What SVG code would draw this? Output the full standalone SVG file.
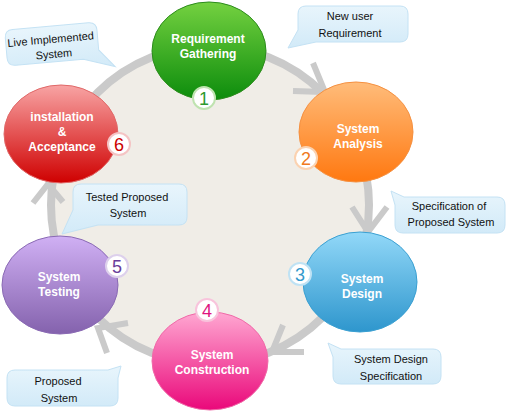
<svg xmlns="http://www.w3.org/2000/svg" width="506" height="412" viewBox="0 0 506 412">
<defs>
<linearGradient id="gGreen" x1="0" y1="0" x2="0" y2="1"><stop offset="0" stop-color="#74d140"/><stop offset="1" stop-color="#0c8c0c"/></linearGradient>
<linearGradient id="gOrange" x1="0" y1="0" x2="0" y2="1"><stop offset="0" stop-color="#ffbc7a"/><stop offset="1" stop-color="#ff7810"/></linearGradient>
<linearGradient id="gBlue" x1="0" y1="0" x2="0" y2="1"><stop offset="0" stop-color="#92d8f8"/><stop offset="1" stop-color="#2e96cd"/></linearGradient>
<linearGradient id="gPink" x1="0" y1="0" x2="0" y2="1"><stop offset="0" stop-color="#ffa8d2"/><stop offset="1" stop-color="#ea087a"/></linearGradient>
<linearGradient id="gPurple" x1="0" y1="0" x2="0" y2="1"><stop offset="0" stop-color="#d0b0f4"/><stop offset="1" stop-color="#8462ad"/></linearGradient>
<linearGradient id="gRed" x1="0" y1="0" x2="0" y2="1"><stop offset="0" stop-color="#f8a4a4"/><stop offset="1" stop-color="#cf0000"/></linearGradient>
<linearGradient id="gCall" x1="0" y1="0" x2="0" y2="1"><stop offset="0" stop-color="#e8f5fc"/><stop offset="1" stop-color="#d2eaf8"/></linearGradient>
<style>
.ring{fill:#f0ede7;stroke:#cacaca;stroke-width:8}
.chev{fill:none;stroke:#cacaca;stroke-width:6;stroke-linejoin:miter;stroke-linecap:butt}
.call{fill:url(#gCall);stroke:#c4e2f4;stroke-width:1}
.ct{font-family:"Liberation Sans",Arial,sans-serif;font-size:11px;fill:#111;text-anchor:middle}
.nt{font-family:"Liberation Sans",Arial,sans-serif;font-size:12px;font-weight:bold;fill:#fff;text-anchor:middle}
.badge{fill:#fff;stroke-width:2}
.num{font-family:"Liberation Sans",Arial,sans-serif;font-size:18px;text-anchor:middle}
</style>
</defs>
<rect width="506" height="412" fill="#fff"/>
<g id="connectors">
<circle class="ring" cx="210" cy="205" r="159"/>
<polyline class="chev" points="313,63 325,92 293,91"/>
<polyline class="chev" points="352,207 368,232 387,207"/>
<polyline class="chev" points="283,325 272,352 304,352"/>
<polyline class="chev" points="128,323 98,328 107,353"/>
<polyline class="chev" points="33,203 48,184 63,202"/>
</g>
<g id="callout-live">
<g transform="rotate(-5 52 44)">
<path class="call" d="M14,26 H90 Q98,26 98,34 V54 L113,72 L82,62 H14 Q6,62 6,54 V34 Q6,26 14,26 Z"/>
<text class="ct" x="51" y="43">Live Implemented</text>
<text class="ct" x="53" y="58">System</text>
</g>
</g>
<g id="callout-newuser">
<path class="call" d="M306,6 H400 Q408,6 408,14 V34 Q408,42 400,42 H316 L288,48 L298,30 V14 Q298,6 306,6 Z"/>
<text class="ct" x="350" y="20">New user</text>
<text class="ct" x="350" y="37">Requirement</text>
</g>
<g id="callout-specprop">
<path class="call" d="M391,191 L404,197 H497 Q505,197 505,205 V225 Q505,233 497,233 H403 Q395,233 395,225 V205 Z"/>
<text class="ct" x="449" y="210">Specification of</text>
<text class="ct" x="451" y="226">Proposed System</text>
</g>
<g id="callout-designspec">
<path class="call" d="M328,343 L341,349 H433 Q441,349 441,357 V376 Q441,384 433,384 H341 Q333,384 333,376 V357 Z"/>
<text class="ct" x="391" y="363">System Design</text>
<text class="ct" x="391" y="380">Specification</text>
</g>
<g id="callout-proposed">
<path class="call" d="M15,370 H108 L121,366 L118,378 V398 Q118,406 110,406 H15 Q7,406 7,398 V378 Q7,370 15,370 Z"/>
<text class="ct" x="58" y="385">Proposed</text>
<text class="ct" x="59" y="402">System</text>
</g>
<g id="callout-tested">
<path class="call" d="M81,184 H179 Q187,184 187,192 V217 Q187,225 179,225 H98 L62,234 L73,210 V192 Q73,184 81,184 Z"/>
<text class="ct" x="127" y="201">Tested Proposed</text>
<text class="ct" x="128" y="217">System</text>
</g>
<g id="node1">
<ellipse cx="209" cy="51" rx="57" ry="49" fill="url(#gGreen)" stroke="#2c8c1c"/>
<text class="nt" x="208" y="43">Requirement</text>
<text class="nt" x="208" y="58">Gathering</text>
<circle class="badge" cx="204" cy="98" r="11" stroke="#bfe3b0"/>
<text class="num" x="204" y="104.5" fill="#2e9a2e">1</text>
</g>
<g id="node2">
<ellipse cx="356" cy="132" rx="57" ry="50" fill="url(#gOrange)" stroke="#f59040"/>
<text class="nt" x="358" y="132.5">System</text>
<text class="nt" x="358" y="147.5">Analysis</text>
<circle class="badge" cx="306" cy="158" r="11" stroke="#fbd2b0"/>
<text class="num" x="306" y="164.5" fill="#f07a20">2</text>
</g>
<g id="node3">
<ellipse cx="360" cy="282" rx="57" ry="50" fill="url(#gBlue)" stroke="#3aa0d2"/>
<text class="nt" x="362" y="282.5">System</text>
<text class="nt" x="362" y="297.5">Design</text>
<circle class="badge" cx="300" cy="274" r="11" stroke="#bfe2f4"/>
<text class="num" x="300" y="280.5" fill="#3399cc">3</text>
</g>
<g id="node4">
<ellipse cx="210" cy="361" rx="58" ry="49" fill="url(#gPink)" stroke="#f06aa8"/>
<text class="nt" x="212" y="358.5">System</text>
<text class="nt" x="212" y="373.5">Construction</text>
<circle class="badge" cx="207" cy="310" r="11" stroke="#f8c4dc"/>
<text class="num" x="207" y="316.5" fill="#e0157f">4</text>
</g>
<g id="node5">
<ellipse cx="60" cy="285" rx="58" ry="49" fill="url(#gPurple)" stroke="#8a6ab4"/>
<text class="nt" x="59" y="280.5">System</text>
<text class="nt" x="59" y="295.5">Testing</text>
<circle class="badge" cx="117" cy="266" r="11" stroke="#ddd0ec"/>
<text class="num" x="117" y="272.5" fill="#6a3d9a">5</text>
</g>
<g id="node6">
<ellipse cx="61" cy="134" rx="57" ry="49" fill="url(#gRed)" stroke="#e06868"/>
<text class="nt" x="62" y="120.5">installation</text>
<text class="nt" x="62" y="135.5">&amp;</text>
<text class="nt" x="62" y="150.5">Acceptance</text>
<circle class="badge" cx="119" cy="144" r="11" stroke="#f4c4c4"/>
<text class="num" x="119" y="150.5" fill="#cc0000">6</text>
</g>
</svg>
